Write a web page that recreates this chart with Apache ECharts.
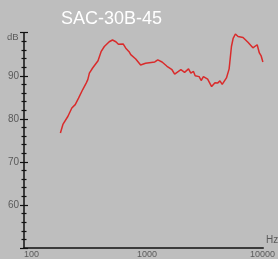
<!DOCTYPE html>
<html>
<head>
<meta charset="utf-8">
<title>SAC-30B-45</title>
<style>
  html,body{margin:0;padding:0;background:#bebebe;}
  #chart{width:278px;height:259px;}
</style>
</head>
<body>
<div id="chart"></div>
<script src="https://cdn.jsdelivr.net/npm/echarts@6/dist/echarts.min.js"></script>
<script>
// frequency response
var freq = [210,221,245,265,270,284,304,331,355,367,379,405,452,481,514,568,607,650,685,754,
            796,851,881,975,1077,1191,1438,1528,1667,1844,2041,2155,2447,2637,2858,2994,3162,3273,3548,3698,
            3873,4221,4577,4901,5166,5423,5678,6192,6540,6855,7096,7431,7846,8684,9596,10617,11578,12106,12564,13010];
var spl = [76.7,78.7,80.6,82.5,82.9,83.3,84.8,86.8,88.3,89.1,90.6,91.8,93.5,95.6,96.8,97.9,98.3,97.9,97.3,97.4,
           96.4,95.6,94.9,93.9,92.5,92.9,93.2,93.7,93.2,92.2,91.4,90.4,91.4,90.8,91.6,90.6,91.0,90.0,89.8,88.9,
           89.8,89.2,87.5,88.4,88.3,88.8,88.0,89.5,91.6,96.8,98.7,99.7,99.1,98.9,97.8,96.5,97.2,95.3,94.6,93.2];
var xTicks = [100,1000,10000];
var yTicks = [60,70,80,90];

var seriesData = [];
for(var i=0;i<freq.length;i++){
  seriesData.push([freq[i],spl[i]]);
}

var axisColor = '#111';
var labelColor = '#5a5a5a';

var chart = echarts.init(document.getElementById('chart'));
var option = {
  backgroundColor:'#bebebe',
  animation:false,
  title:{
    text:'SAC-30B-45',
    left:56,
    top:5,
    textStyle:{color:'#fff',fontSize:18,fontWeight:'normal',fontFamily:'Liberation Sans, Arial, sans-serif'}
  },
  grid:{left:24,right:13,top:32.7,bottom:10.5,containLabel:false},
  xAxis:{
    type:'log',
    logBase:10,
    min:100,
    max:13100,
    axisLine:{lineStyle:{color:axisColor,width:1.5}},
    axisTick:{show:false},
    splitLine:{show:false},
    axisLabel:{
      color:labelColor,
      fontSize:9,
      align:'left',
      margin:2,
      showMaxLabel:false,
      formatter:function(v){
        return xTicks.indexOf(Math.round(v))>=0 ? String(Math.round(v)) : '';
      }
    }
  },
  yAxis:[{
    type:'value',
    position:'left',
    min:50,
    max:100,
    interval:10,
    axisLine:{show:true,lineStyle:{color:axisColor,width:1.5}},
    axisTick:{show:true,length:4,lineStyle:{color:axisColor,width:1.2}},
    minorTick:{show:true,splitNumber:5,length:2.5,lineStyle:{color:axisColor,width:1.2}},
    splitLine:{show:false},
    axisLabel:{
      color:labelColor,
      fontSize:10,
      margin:5,
      showMinLabel:false,
      showMaxLabel:false,
      formatter:function(v){
        return yTicks.indexOf(v)>=0 ? String(v) : '';
      }
    }
  },{
    type:'value',
    position:'left',
    min:50,
    max:100,
    interval:10,
    axisLine:{show:false},
    axisTick:{show:true,inside:true,length:4,lineStyle:{color:axisColor,width:1.2}},
    minorTick:{show:true,splitNumber:5,length:2.5,lineStyle:{color:axisColor,width:1.2}},
    splitLine:{show:false},
    axisLabel:{show:false}
  }],
  graphic:[
    {type:'text',left:7,top:32,style:{text:'dB',fill:labelColor,font:'9.5px sans-serif'}},
    {type:'text',left:266,top:235,style:{text:'Hz',fill:labelColor,font:'10px sans-serif'}}
  ],
  series:[{
    type:'line',
    data:seriesData,
    showSymbol:false,
    lineStyle:{color:'#d92b2b',width:1.5},
    silent:true
  }]
};
chart.setOption(option);
</script>
</body>
</html>
